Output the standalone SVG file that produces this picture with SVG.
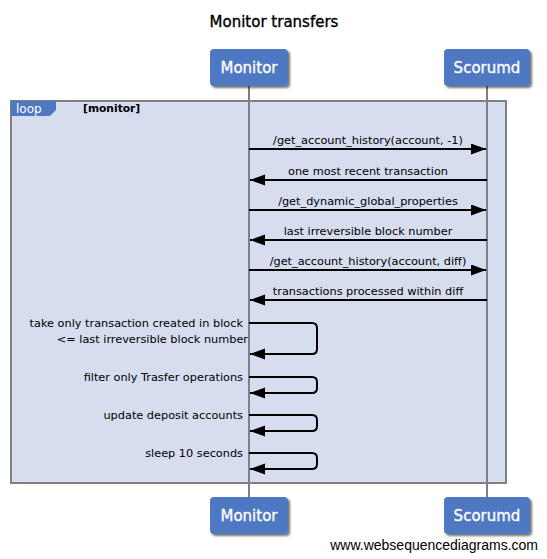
<svg xmlns="http://www.w3.org/2000/svg" width="547" height="559" viewBox="0 0 547 559">
<defs>
<filter id="sh" x="-20%" y="-20%" width="150%" height="160%">
<feDropShadow dx="2" dy="2" stdDeviation="1.3" flood-color="#000" flood-opacity="0.55"/>
</filter>
<marker id="ah" markerUnits="userSpaceOnUse" markerWidth="16" markerHeight="12" refX="15" refY="5.5" orient="auto">
<path d="M0,0 L15,5.5 L0,11 z" fill="#000"/>
</marker>
<style>
.box{fill:#4f78c3;filter:url(#sh)}
.pt{font-family:"DejaVu Sans",Verdana,sans-serif;font-size:15px;fill:#fff;stroke:#fff;stroke-width:0.3;text-anchor:middle}
.life{stroke:#808080;stroke-width:2}
.msg{stroke:#000;stroke-width:2;fill:none;marker-end:url(#ah)}
.lbl{font-family:"DejaVu Sans",Verdana,sans-serif;font-size:11.3px;fill:#000}
.c{text-anchor:middle}
.e{text-anchor:end}
</style>
</defs>
<rect width="547" height="559" fill="#fff"/>
<text x="274" y="27" font-family="'DejaVu Sans',Verdana,sans-serif" font-size="15" text-anchor="middle" fill="#000" stroke="#000" stroke-width="0.35">Monitor transfers</text>

<g id="loop">
<rect x="11" y="101" width="495" height="382" fill="#d5ddef" stroke="#808080" stroke-width="2"/>
<path d="M11,101 H56 V110 L50,116 H11 z" fill="#4f78c3"/>
<text x="16" y="113" font-family="'DejaVu Sans',Verdana,sans-serif" font-size="12" fill="#fff">loop</text>
<text x="83" y="112" font-family="'DejaVu Sans',Verdana,sans-serif" font-size="10.7" font-weight="bold" fill="#000">[monitor]</text>
</g>

<g id="lifelines">
<line class="life" x1="249" y1="86" x2="249" y2="497"/>
<line class="life" x1="487" y1="86" x2="487" y2="497"/>
</g>

<g id="monitor-top">
<rect class="box" x="210" y="49" width="78" height="37" rx="4"/>
<text class="pt" x="249" y="73">Monitor</text>
</g>
<g id="scorumd-top">
<rect class="box" x="444" y="49" width="86" height="37" rx="4"/>
<text class="pt" x="487" y="73">Scorumd</text>
</g>
<g id="monitor-bottom">
<rect class="box" x="210" y="497" width="78" height="37" rx="4"/>
<text class="pt" x="249" y="521">Monitor</text>
</g>
<g id="scorumd-bottom">
<rect class="box" x="444" y="497" width="86" height="37" rx="4"/>
<text class="pt" x="487" y="521">Scorumd</text>
</g>

<g id="connectors">
<line class="msg" x1="249" y1="149" x2="486" y2="149"/>
<text class="lbl c" x="368" y="144">/get_account_history(account, -1)</text>
<line class="msg" x1="487" y1="180" x2="250" y2="180"/>
<text class="lbl c" x="368" y="175">one most recent transaction</text>
<line class="msg" x1="249" y1="210" x2="486" y2="210"/>
<text class="lbl c" x="368" y="205">/get_dynamic_global_properties</text>
<line class="msg" x1="487" y1="240" x2="250" y2="240"/>
<text class="lbl c" x="368" y="235">last irreversible block number</text>
<line class="msg" x1="249" y1="270" x2="486" y2="270"/>
<text class="lbl c" x="368" y="265">/get_account_history(account, diff)</text>
<line class="msg" x1="487" y1="300" x2="250" y2="300"/>
<text class="lbl c" x="368" y="295">transactions processed within diff</text>

<path class="msg" d="M249,323 H312 Q317,323 317,328 V349 Q317,354 312,354 H250"/>
<text class="lbl e" x="243" y="327">take only transaction created in block</text>
<text class="lbl e" x="248" y="343">&lt;= last irreversible block number</text>

<path class="msg" d="M249,377 H312 Q317,377 317,382 V388 Q317,393 312,393 H250"/>
<text class="lbl e" x="243" y="381">filter only Trasfer operations</text>

<path class="msg" d="M249,415 H312 Q317,415 317,420 V426 Q317,431 312,431 H250"/>
<text class="lbl e" x="243" y="419">update deposit accounts</text>

<path class="msg" d="M249,453 H312 Q317,453 317,458 V464 Q317,469 312,469 H250"/>
<text class="lbl e" x="243" y="457">sleep 10 seconds</text>
</g>

<text x="538" y="550" font-family="'Liberation Sans',Arial,sans-serif" font-size="14" text-anchor="end" fill="#000">www.websequencediagrams.com</text>
</svg>
